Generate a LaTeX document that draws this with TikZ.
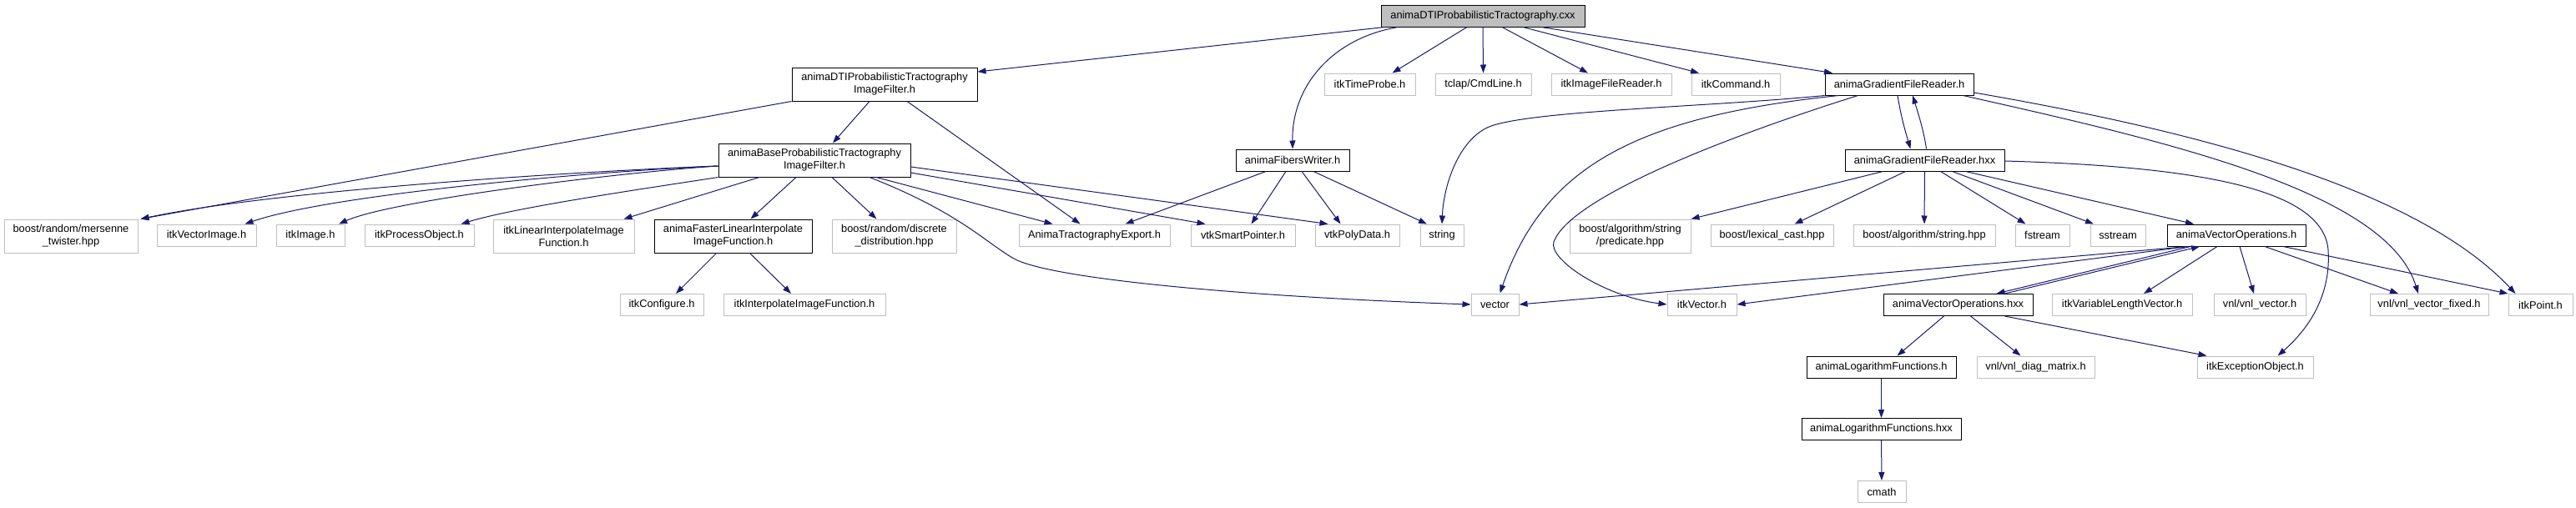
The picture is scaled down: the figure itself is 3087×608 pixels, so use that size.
\documentclass[tikz,border=0pt]{standalone}
\usepackage{fontspec}
\setmainfont{Liberation Sans}
\usetikzlibrary{arrows.meta}
\definecolor{edgeblue}{HTML}{191970}
\definecolor{leafgrey}{HTML}{BFBFBF}

\begin{document}
\begin{tikzpicture}[
  x=1pt, y=-1pt,
  hdr/.style={rectangle, inner sep=0pt, minimum height=26pt, align=center,
              line width=1pt, fill=white, font=\fontsize{12.8}{15}\selectfont},
  box/.style={hdr, draw=black},
  leaf/.style={hdr, draw=leafgrey},
  rootbox/.style={hdr, draw=black, fill=leafgrey},
  twoline/.style={minimum height=40pt},
  arr/.style={-{Triangle[length=10pt,width=7pt]}, line width=1pt, edgeblue}
]
\useasboundingbox (0,0) rectangle (3087,608);

\node[rootbox, minimum width=244pt] (root) at (1777,19) {animaDTIProbabilisticTractography.cxx};

\node[box, twoline, minimum width=222pt] (filt) at (1060,101) {animaDTIProbabilisticTractography\\ImageFilter.h};
\node[leaf, minimum width=109pt] (tp) at (1641.5,101) {itkTimeProbe.h};
\node[leaf, minimum width=115pt] (cmd) at (1777.5,101) {tclap/CmdLine.h};
\node[leaf, minimum width=144pt] (ifr) at (1931,101) {itkImageFileReader.h};
\node[leaf, minimum width=106pt] (icmd) at (2080,101) {itkCommand.h};
\node[box, minimum width=178pt] (gfr) at (2276,101) {animaGradientFileReader.h};

\node[box, twoline, minimum width=230pt] (base) at (976,192) {animaBaseProbabilisticTractography\\ImageFilter.h};
\node[box, minimum width=136pt] (fw) at (1549,192) {animaFibersWriter.h};
\node[box, minimum width=191pt] (gfrx) at (2306.5,192) {animaGradientFileReader.hxx};

\node[leaf, twoline, minimum width=160pt] (mers) at (85,283) {boost/random/mersenne\\\_twister.hpp};
\node[leaf, minimum width=119pt] (ivi) at (247.5,282) {itkVectorImage.h};
\node[leaf, minimum width=82pt] (iimg) at (372,282) {itkImage.h};
\node[leaf, minimum width=131pt] (ipo) at (502.5,282) {itkProcessObject.h};
\node[leaf, twoline, minimum width=169pt] (lin) at (675.5,283) {itkLinearInterpolateImage\\Function.h};
\node[box, twoline, minimum width=189pt] (fast) at (878.5,283) {animaFasterLinearInterpolate\\ImageFunction.h};
\node[leaf, twoline, minimum width=149pt] (disc) at (1071.5,283) {boost/random/discrete\\\_distribution.hpp};
\node[leaf, minimum width=181pt] (ate) at (1311.5,282) {AnimaTractographyExport.h};
\node[leaf, minimum width=125pt] (vsp) at (1489.5,282) {vtkSmartPointer.h};
\node[leaf, minimum width=101pt] (vpd) at (1626.5,282) {vtkPolyData.h};
\node[leaf, minimum width=52pt] (str) at (1728,282) {string};
\node[leaf, twoline, minimum width=145pt] (pred) at (1953.5,283) {boost/algorithm/string\\/predicate.hpp};
\node[leaf, minimum width=147pt] (lex) at (2123.5,282) {boost/lexical\_cast.hpp};
\node[leaf, minimum width=170pt] (bas) at (2306,282) {boost/algorithm/string.hpp};
\node[leaf, minimum width=65pt] (fst) at (2447.5,282) {fstream};
\node[leaf, minimum width=66pt] (sst) at (2538,282) {sstream};
\node[box, minimum width=166pt] (vops) at (2680,282) {animaVectorOperations.h};

\node[leaf, minimum width=100pt] (iconf) at (793,365.5) {itkConfigure.h};
\node[leaf, minimum width=194pt] (iint) at (964,365.5) {itkInterpolateImageFunction.h};
\node[leaf, minimum width=57pt] (vec) at (1791.5,365) {vector};
\node[leaf, minimum width=83pt] (ivec) at (2039.5,365) {itkVector.h};
\node[box, minimum width=179pt] (vopsx) at (2346.5,365.5) {animaVectorOperations.hxx};
\node[leaf, minimum width=168pt] (ivlv) at (2543,365.5) {itkVariableLengthVector.h};
\node[leaf, minimum width=110pt] (vnlv) at (2708,365.5) {vnl/vnl\_vector.h};
\node[leaf, minimum width=142pt] (vvf) at (2911,365.5) {vnl/vnl\_vector\_fixed.h};
\node[leaf, minimum width=77pt] (ipt) at (3044.5,365.5) {itkPoint.h};

\node[box, minimum width=179pt] (logf) at (2254.5,440) {animaLogarithmFunctions.h};
\node[leaf, minimum width=141pt] (vdm) at (2439.5,440) {vnl/vnl\_diag\_matrix.h};
\node[leaf, minimum width=139pt] (iexc) at (2702.5,440) {itkExceptionObject.h};
\node[box, minimum width=191pt] (logfx) at (2254.5,514.5) {animaLogarithmFunctions.hxx};
\node[leaf, minimum width=58pt] (cm) at (2255,589.5) {cmath};

\draw[arr] ([xshift=5pt]root.south west) -- ([yshift=15pt]filt.east);
\draw[arr] ([xshift=21pt]root.south west) .. controls (1600,45) and (1548,100) .. (fw.north);
\draw[arr] ([xshift=-19pt]root.south) -- ([xshift=27pt]tp.north);
\draw[arr] (root.south) -- (cmd.north);
\draw[arr] ([xshift=23pt]root.south) -- ([xshift=-28pt]ifr.north);
\draw[arr] ([xshift=48pt]root.south) -- ([xshift=-44pt]icmd.north);
\draw[arr] ([xshift=70pt]root.south) -- ([xshift=-80pt]gfr.north);

\draw[arr] (filt.south west) -- ([xshift=3pt]mers.north east);
\draw[arr] ([xshift=-18pt]filt.south) -- ([xshift=22pt]base.north);
\draw[arr] ([xshift=27pt]filt.south) -- ([xshift=-17pt]ate.north);

\draw[arr] ([yshift=-7pt]base.west) .. controls (700,205) and (330,228) .. ([xshift=3pt]mers.north east);
\draw[arr] ([yshift=-7pt]base.west) .. controls (720,205) and (400,232) .. ([xshift=46pt]ivi.north);
\draw[arr] ([yshift=-7pt]base.west) .. controls (740,207) and (470,240) .. ([xshift=34pt]iimg.north);
\draw[arr] (base.south west) .. controls (780,225) and (620,248) .. ([xshift=50pt]ipo.north);
\draw[arr] ([xshift=-66pt]base.south) -- ([xshift=72pt]lin.north);
\draw[arr] ([xshift=-22pt]base.south) -- ([xshift=21pt]fast.north);
\draw[arr] ([xshift=21pt]base.south) -- ([xshift=-21pt]disc.north);
\draw[arr] ([xshift=74pt]base.south) -- ([xshift=-50pt]ate.north);
\draw[arr] ([yshift=-15pt]base.east) -- ([xshift=-45pt]vsp.north);
\draw[arr] ([yshift=-8pt]base.east) -- ([xshift=-35pt]vpd.north);
\draw[arr] ([xshift=66pt]base.south) .. controls (1150,255) and (1180,290) .. (1215,310)
  .. controls (1260,335) and (1500,356) .. (vec.west);

\draw[arr] ([xshift=-20pt]fast.south) -- ([xshift=17pt]iconf.north);
\draw[arr] ([xshift=20pt]fast.south) -- ([xshift=-16pt]iint.north);

\draw[arr] ([xshift=-32pt]fw.south) -- ([xshift=37pt]ate.north);
\draw[arr] ([xshift=-8pt]fw.south) -- ([xshift=10pt]vsp.north);
\draw[arr] ([xshift=11pt]fw.south) -- ([xshift=-20pt]vpd.north);
\draw[arr] ([xshift=25pt]fw.south) -- ([xshift=-18pt]str.north);

\draw[arr] (gfr.south west) .. controls (2050,128) and (1850,132) .. (1790,150)
  .. controls (1750,162) and (1730,220) .. (str.north);
\draw[arr] ([xshift=17pt]gfr.south west) .. controls (1960,140) and (1850,200) .. ([xshift=6pt]vec.north);
\draw[arr] ([xshift=40pt]gfr.south west) .. controls (2050,170) and (1880,240) .. (1862,290)
  .. controls (1855,310) and (1920,355) .. (ivec.west);
\draw[arr] ([xshift=-2pt]gfr.south) .. controls (2278,140) and (2284,160) .. ([xshift=-17pt]gfrx.north);
\draw[arr] ([xshift=2pt]gfrx.north) .. controls (2306,160) and (2300,140) .. ([xshift=16pt]gfr.south);
\draw[arr] ([xshift=-13pt]gfr.south east) .. controls (2600,170) and (2860,230) .. ([xshift=-13pt]vvf.north);
\draw[arr] ([yshift=-10pt]gfr.east) .. controls (2650,160) and (2900,230) .. ([xshift=-30pt]ipt.north);

\draw[arr] ([xshift=-50pt]gfrx.south) -- (pred.north east);
\draw[arr] ([xshift=-23pt]gfrx.south) -- ([xshift=27pt]lex.north);
\draw[arr] (gfrx.south) -- (bas.north);
\draw[arr] ([xshift=19pt]gfrx.south) -- ([xshift=-20pt]fst.north);
\draw[arr] ([xshift=33pt]gfrx.south) -- ([xshift=-29pt]sst.north);
\draw[arr] ([xshift=49pt]gfrx.south) -- ([xshift=-51pt]vops.north);
\draw[arr] ([yshift=-1pt]gfrx.east) .. controls (2650,200) and (2785,230) .. (2790,300)
  .. controls (2794,360) and (2760,400) .. ([xshift=27pt]iexc.north);

\draw[arr] ([xshift=-55pt]vops.south) -- ([xshift=46pt]vopsx.north);
\draw[arr] ([xshift=56pt]vopsx.north) -- ([xshift=-44pt]vops.south);
\draw[arr] ([xshift=-58pt]vops.south) -- (vec.east);
\draw[arr] ([xshift=-58pt]vops.south) -- (ivec.east);
\draw[arr] ([xshift=-23pt]vops.south) -- ([xshift=26pt]ivlv.north);
\draw[arr] ([xshift=4pt]vops.south) -- ([xshift=-7pt]vnlv.north);
\draw[arr] ([xshift=34pt]vops.south) -- ([xshift=-37pt]vvf.north);
\draw[arr] ([xshift=56pt]vops.south) -- (ipt.north west);

\draw[arr] ([xshift=-17pt]vopsx.south) -- ([xshift=19pt]logf.north);
\draw[arr] ([xshift=15pt]vopsx.south) -- ([xshift=-18pt]vdm.north);
\draw[arr] ([xshift=56pt]vopsx.south) -- ([xshift=-58pt]iexc.north);
\draw[arr] (logf) -- (logfx);
\draw[arr] (logfx) -- (cm);
\end{tikzpicture}
\end{document}
